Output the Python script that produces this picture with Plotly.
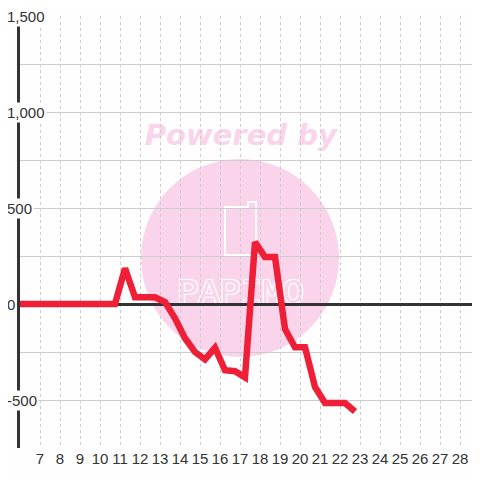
import plotly.graph_objects as go

# ---- data ----
hours = [5.75, 6.25, 6.75, 7.25, 7.75, 8.25, 8.75, 9.25, 9.75, 10.25,
         10.75, 11.25, 11.75, 12.25, 12.75, 13.25, 13.75, 14.25, 14.75, 15.25,
         15.75, 16.25, 16.75, 17.25, 17.75, 18.25, 18.75, 19.25, 19.75, 20.25,
         20.75, 21.25, 21.75, 22.25, 22.75]
values = [0, 0, 0, 0, 0, 0, 0, 0, 0, 0,
          0, 186, 35, 35, 35, 10, -75, -178, -250, -288,
          -228, -345, -350, -382, 322, 245, 245, -130, -225, -225,
          -432, -516, -516, -516, -560]

x_tick_vals = list(range(7, 29))
x_tick_text = [str(v) for v in x_tick_vals]
y_tick_vals = [1500, 1000, 500, 0, -500]
y_tick_text = ["1,500", "1,000", "500", "0", "-500"]

BG = "#fdfefd"
TXT = "#333333"
GRID = "#cccccc"
PINK = "#fad4ea"
FONT = "Liberation Sans, Arial, sans-serif"

fig = go.Figure()
fig.add_trace(go.Scatter(
    x=hours, y=values, mode="lines",
    line=dict(color="#ee1f36", width=6.5),
    hoverinfo="skip", showlegend=False,
))

outline = ("1px 0 0 white, -1px 0 0 white, 0 1px 0 white, 0 -1px 0 white, "
           "1px 1px 0 white, -1px -1px 0 white, 1px -1px 0 white, -1px 1px 0 white")

shapes = [
    # watermark circle
    dict(type="circle", xref="paper", yref="paper",
         x0=0.263, x1=0.6935, y0=0.2106, y1=0.669,
         fillcolor=PINK, line=dict(width=0), layer="below"),
    # "Powered by"
    dict(type="rect", xref="paper", yref="paper",
         x0=0.28, x1=0.68, y0=0.69, y1=0.77,
         fillcolor="rgba(0,0,0,0)", line=dict(width=0), layer="below",
         label=dict(text="<b><i>Powered by</i></b>",
                    font=dict(family="DejaVu Sans", size=29, color=PINK),
                    textposition="middle center")),
    # logo text
    dict(type="rect", xref="paper", yref="paper",
         x0=0.33, x1=0.63, y0=0.33, y1=0.41,
         fillcolor="rgba(0,0,0,0)", line=dict(width=0), layer="below",
         label=dict(text="PAPIMO",
                    font=dict(family="Liberation Mono", size=35, color=PINK,
                              shadow=outline),
                    textposition="middle center")),
    # logo icon
    dict(type="path", xref="paper", yref="paper",
         path="M 0.4457,0.5579 L 0.4957,0.5579 L 0.4957,0.5695 "
              "L 0.5130,0.5695 L 0.5130,0.4468 L 0.4457,0.4468 Z",
         line=dict(color="white", width=2), fillcolor="rgba(0,0,0,0)",
         layer="below"),
]

annotations = []
for v, t in zip(y_tick_vals, y_tick_text):
    annotations.append(dict(
        x=-0.032, xref="paper", y=v, yref="y", text=t,
        xanchor="left", yanchor="middle", showarrow=False,
        font=dict(family=FONT, size=15, color=TXT),
        bgcolor=BG, borderpad=1,
    ))

# page body adds an 8px offset, so the figure is sized/margined to compensate
fig.update_layout(
    width=472, height=472, autosize=False,
    margin=dict(l=12, r=0, t=8, b=32, autoexpand=False),
    paper_bgcolor=BG, plot_bgcolor=BG,
    shapes=shapes, annotations=annotations,
    showlegend=False,
    xaxis=dict(
        range=[6, 29], tickmode="array", tickvals=x_tick_vals, ticktext=x_tick_text,
        showgrid=True, gridcolor=GRID, gridwidth=1, griddash="dot",
        zeroline=False, showline=False, ticks="", automargin=False,
        tickfont=dict(family=FONT, size=15, color=TXT),
        fixedrange=True,
    ),
    yaxis=dict(
        range=[-750, 1500], tick0=0, dtick=250, showticklabels=False,
        showgrid=True, gridcolor=GRID, gridwidth=1,
        zeroline=True, zerolinecolor="#333333", zerolinewidth=3,
        showline=True, linecolor="#333333", linewidth=3, ticks="",
        automargin=False, fixedrange=True,
    ),
)

fig.write_html("out.html")
